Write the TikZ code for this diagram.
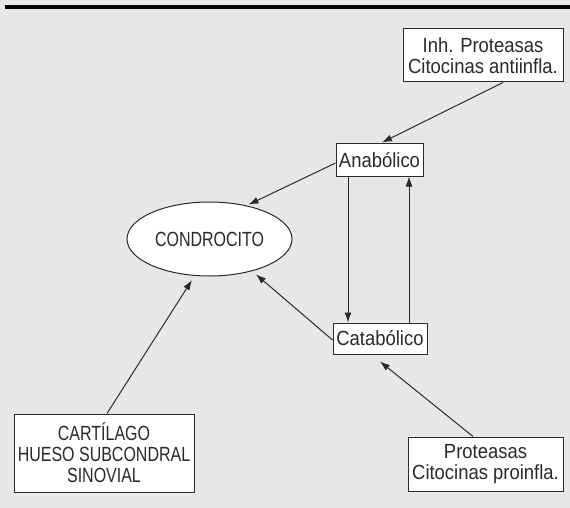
\documentclass[tikz,border=0pt]{standalone}
\usepackage{fontspec}
\setmainfont[FakeStretch=0.9]{Liberation Sans}
\newfontfamily\capsfont[FakeStretch=0.78]{Liberation Sans}
\usetikzlibrary{shapes.geometric,arrows.meta}
\definecolor{bg}{HTML}{E6E7E8}
\definecolor{ink}{HTML}{2A2A2A}
\begin{document}
\begin{tikzpicture}[x=1pt,y=-1pt,
  box/.style={draw=ink,line width=1pt,fill=white,inner sep=0pt,align=center,
    text=ink,font=\fontsize{20.5pt}{21pt}\selectfont},
  capsbox/.style={box,font=\capsfont\fontsize{20.5pt}{21pt}\selectfont},
  arr/.style={draw=ink,line width=1pt,-{Latex[length=10pt,width=7pt]}}]
\fill[bg] (0,0) rectangle (570,508);
\useasboundingbox (0,0) rectangle (570,508);
\fill[black] (5,5.3) rectangle (570,8.7);

\node[box,minimum width=160pt,minimum height=53pt] (tb) at (483,55.5)
  {Inh. Proteasas\\Citocinas antiinfla.};
\node[box,minimum width=87pt,minimum height=32pt] (ana) at (379.5,160) {Anabólico};
\node[box,minimum width=94pt,minimum height=31pt] (cat) at (380,338.5) {Catabólico};
\node[capsbox,ellipse,minimum width=165pt,minimum height=74pt] (ell) at (209.5,239) {CONDROCITO};
\node[capsbox,minimum width=180pt,minimum height=78pt] (cart) at (104,453)
  {CARTÍLAGO\\HUESO SUBCONDRAL\\SINOVIAL};
\node[box,minimum width=155pt,minimum height=54pt] (prot) at (485.5,464)
  {Proteasas\\Citocinas proinfla.};

\draw[arr] ([xshift=20pt]tb.south) -- ([xshift=2.5pt,yshift=1pt]ana.north);
\draw[arr,shorten >=2pt] ([yshift=-3pt]ana.west) -- (ell.42);
\draw[arr] ([xshift=-31.5pt]ana.south) -- ([xshift=-31.5pt]ana.south |- cat.north);
\draw[arr] ([xshift=29pt]cat.north) -- ([xshift=29pt]cat.north |- ana.south);
\draw[arr,shorten >=5pt] ([yshift=-1.5pt]cat.west) -- (ell.-37);
\draw[arr,shorten >=5pt] ([xshift=3pt]cart.north) -- (ell.-112);
\draw[arr] ([xshift=-12.5pt]prot.north) -- ([yshift=-7pt]cat.south);
\end{tikzpicture}
\end{document}
